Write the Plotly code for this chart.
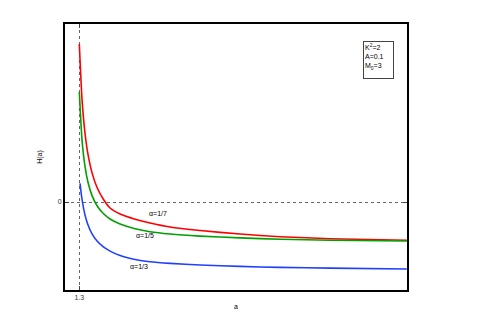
import plotly.graph_objects as go

# curvas H(a)
a_vals = [1.300, 1.319, 1.340, 1.361, 1.389, 1.424, 1.466, 1.515, 1.585, 1.690,
          1.794, 1.934, 2.144, 2.424, 2.703, 3.054, 3.589]
h_red = [1.580, 1.026, 0.685, 0.473, 0.291, 0.145, 0.033, -0.060, -0.120, -0.172,
         -0.210, -0.250, -0.285, -0.320, -0.347, -0.367, -0.383]
h_green = [1.103, 0.620, 0.353, 0.195, 0.064, -0.037, -0.113, -0.170, -0.220, -0.267,
           -0.297, -0.320, -0.341, -0.359, -0.372, -0.382, -0.390]

a_blue = [1.305, 1.319, 1.340, 1.361, 1.389, 1.424, 1.466, 1.515, 1.585, 1.690,
          1.794, 1.934, 2.144, 2.424, 2.703, 3.054, 3.589]
h_blue = [0.187, 0.025, -0.131, -0.230, -0.319, -0.391, -0.447, -0.491, -0.536, -0.575,
          -0.598, -0.614, -0.630, -0.644, -0.654, -0.661, -0.670]

labels = ["α=1/7", "α=1/5", "α=1/3"]
label_pos = [(1.850, -0.11), (1.760, -0.33), (1.720, -0.64)]
params = "K<sup>2</sup>=2<br>A=0.1<br>M<sub>0</sub>=3"

fig = go.Figure()
for a, h, c in [(a_vals, h_red, "#ff0000"), (a_vals, h_green, "#00a000"), (a_blue, h_blue, "#2040ff")]:
    fig.add_trace(go.Scatter(x=a, y=h, mode="lines",
                             line=dict(color=c, width=1.6, shape="spline", smoothing=0.6),
                             showlegend=False))

for t, (x, y) in zip(labels, label_pos):
    fig.add_annotation(x=x, y=y, text=t, showarrow=False, font=dict(size=7, color="black"))

fig.add_annotation(x=0.962, y=0.935, xref="paper", yref="paper", text=params, showarrow=False,
                   align="left", valign="top", xanchor="right", yanchor="top", width=27, height=34,
                   font=dict(size=7, color="black"),
                   bordercolor="#444", borderwidth=1, borderpad=1, bgcolor="white")

fig.update_xaxes(range=[1.2, 3.59], tickvals=[1.3], ticktext=["1.3"], ticks="inside", ticklen=4,
                 showline=True, mirror="ticks", linecolor="black", linewidth=2,
                 showgrid=True, gridcolor="#666", griddash="dot", gridwidth=1, zeroline=False,
                 title=dict(text="a", standoff=4, font=dict(size=7)), tickfont=dict(size=7, color="#333"))
fig.update_yaxes(range=[-0.88, 1.78], tickvals=[0], ticktext=["0"], ticks="inside", ticklen=4,
                 showline=True, mirror="ticks", linecolor="black", linewidth=2,
                 showgrid=True, gridcolor="#666", griddash="dot", gridwidth=1, zeroline=False,
                 title=dict(text="H(a)", standoff=14, font=dict(size=7)), tickfont=dict(size=7, color="#333"))

# el body del navegador tiene 8px de margen
fig.update_layout(width=490, height=319, margin=dict(l=57, r=91, t=16, b=37),
                  plot_bgcolor="white", paper_bgcolor="white",
                  font=dict(family="Liberation Sans, Arial, sans-serif", size=7, color="black"))

fig.write_html("out.html")
